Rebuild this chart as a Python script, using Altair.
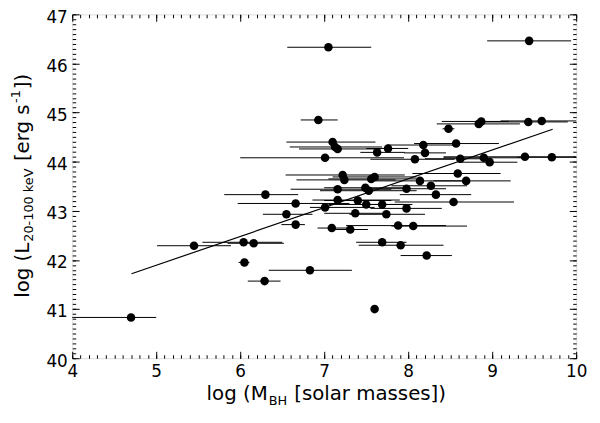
import altair as alt
import pandas as pd

# ---- data ----
log_mbh = [4.70, 5.45, 6.04, 6.16, 6.05, 6.29, 6.83, 7.60, 6.30, 6.66,
           6.55, 6.66, 7.01, 7.09, 7.31, 7.16, 7.40, 7.50, 7.69, 7.98,
           7.37, 7.74, 7.88, 8.06, 7.69, 7.91, 8.22, 8.54, 8.33, 8.27,
           8.14, 8.69, 8.59, 7.98, 7.53, 7.49, 7.16, 7.22, 7.24, 7.56,
           7.60, 7.01, 7.10, 7.13, 7.16, 7.63, 7.76, 8.18, 8.20, 8.08,
           8.57, 8.62, 8.90, 8.97, 9.39, 9.71, 8.48, 8.84, 8.87, 9.43,
           9.59, 6.93, 7.05, 9.44]
log_lx = [40.83, 42.29, 42.36, 42.34, 41.95, 41.57, 41.79, 41.00, 43.33, 43.15,
          42.93, 42.72, 43.07, 42.65, 42.62, 43.22, 43.21, 43.13, 43.13, 43.05,
          42.95, 42.93, 42.70, 42.69, 42.36, 42.30, 42.09, 43.18, 43.33, 43.51,
          43.61, 43.61, 43.76, 43.45, 43.41, 43.47, 43.44, 43.73, 43.63, 43.65,
          43.69, 44.08, 44.40, 44.30, 44.26, 44.19, 44.27, 44.34, 44.18, 44.05,
          44.37, 44.06, 44.08, 43.99, 44.10, 44.09, 44.67, 44.77, 44.82, 44.81,
          44.83, 44.85, 46.33, 46.46]
mbh_lo = [3.80, 5.01, 5.55, 5.85, 5.98, 6.09, 6.34, 7.60, 5.81, 5.97,
          6.27, 6.49, 6.83, 6.92, 7.10, 6.86, 7.00, 7.05, 7.35, 7.55,
          7.00, 7.30, 7.26, 7.80, 7.38, 7.41, 7.91, 7.84, 7.90, 7.80,
          7.60, 8.30, 8.05, 7.50, 6.95, 7.00, 6.60, 6.54, 6.67, 7.05,
          7.10, 6.00, 6.55, 6.59, 6.70, 7.43, 7.50, 7.75, 7.95, 7.55,
          8.07, 8.20, 8.42, 8.60, 8.42, 9.30, 8.41, 8.34, 8.40, 8.86,
          9.10, 6.72, 6.56, 8.94]
mbh_hi = [5.00, 5.89, 6.50, 6.52, 6.11, 6.48, 7.33, 7.60, 6.69, 7.30,
          6.86, 6.77, 7.60, 7.30, 7.52, 7.90, 7.80, 7.95, 8.05, 8.40,
          7.75, 8.20, 8.45, 8.70, 7.98, 8.42, 8.52, 9.26, 8.75, 8.70,
          8.70, 9.22, 9.10, 8.45, 8.10, 7.95, 7.80, 7.96, 7.85, 8.10,
          8.10, 7.95, 7.61, 7.69, 7.60, 7.96, 8.00, 8.60, 8.45, 8.55,
          9.08, 9.00, 9.40, 9.30, 10.00, 10.20, 8.55, 9.33, 9.20, 9.90,
          10.20, 7.16, 7.56, 9.94]
fit_mbh = [4.706, 9.72]
fit_lx = [41.72, 44.66]

x_major = [4, 5, 6, 7, 8, 9, 10]
y_major = [40, 41, 42, 43, 44, 45, 46, 47]
x_minor = [round(4 + 0.1 * i, 1) for i in range(61)]
y_minor = [round(40 + 0.1 * i, 1) for i in range(71)]

FONT = "DejaVu Sans"
W, H = 510, 348

pts = pd.DataFrame({"m": log_mbh, "l": log_lx, "lo": mbh_lo, "hi": mbh_hi})
fit = pd.DataFrame({"m": fit_mbh, "l": fit_lx})

xs = alt.Scale(domain=[4, 10], nice=False, zero=False)
ys = alt.Scale(domain=[40, 47], nice=False, zero=False)


def ax(orient, values, size, labels, pad=6, loff=0):
    kw = dict(orient=orient, values=values, tickSize=size, offset=-size,
              labels=labels, domain=False, grid=False, title=None, ticks=True,
              tickColor="black", tickWidth=1)
    if labels:
        kw.update(labelFont=FONT, labelFontSize=17, labelColor="black",
                  labelPadding=pad, labelFlush=False, labelOverlap=False,
                  labelOffset=loff, format="d")
    return alt.Axis(**kw)


bars = alt.Chart(pts).mark_rule(clip=True, color="black", strokeWidth=1).encode(
    x=alt.X("lo:Q", scale=xs, axis=ax("bottom", x_major, 7, True, 5)),
    x2="hi:Q",
    y=alt.Y("l:Q", scale=ys, axis=ax("left", y_major, 7, True, 5, 3)),
)
line = alt.Chart(fit).mark_line(color="black", strokeWidth=1.2).encode(
    x=alt.X("m:Q", scale=xs, axis=ax("top", x_major, 7, False)),
    y=alt.Y("l:Q", scale=ys, axis=ax("right", y_major, 7, False)),
)
dots = alt.Chart(pts).mark_circle(size=75, color="black", opacity=1).encode(
    x=alt.X("m:Q", scale=xs, axis=ax("bottom", x_minor, 3.5, False)),
    y=alt.Y("l:Q", scale=ys, axis=ax("left", y_minor, 3.5, False)),
)
ghost = alt.Chart(fit).mark_point(opacity=0).encode(
    x=alt.X("m:Q", scale=xs, axis=ax("top", x_minor, 3.5, False)),
    y=alt.Y("l:Q", scale=ys, axis=ax("right", y_minor, 3.5, False)),
)


def piece(text, px, py, size, angle=0):
    return alt.Chart(pd.DataFrame({"t": [text]})).mark_text(
        align="left", baseline="alphabetic", font=FONT, fontSize=size,
        color="black", angle=angle,
    ).encode(x=alt.value(px), y=alt.value(py), text="t:N")


# x title: log (M_BH [solar masses])
xt = [
    piece("log (M", 136, 390, 20),
    piece("BH", 198.9, 395, 13),
    piece("[solar masses])", 224.6, 390, 20),
]
# y title: log (L_{20-100 keV} [erg s^-1])
yt = [
    piece("log (L", -44, 286.9, 20, 270),
    piece("20-100 keV", -40, 230.1, 13, 270),
    piece("[erg s", -44, 148.5, 20, 270),
    piece("-1", -53, 89.7, 13, 270),
    piece("])", -44, 75.7, 20, 270),
]

chart = alt.layer(bars, line, dots, ghost, *xt, *yt).resolve_axis(
    x="independent", y="independent"
).properties(
    width=W, height=H,
    autosize=alt.AutoSizeParams(type="none"),
    padding={"left": 65, "top": 4, "right": 16, "bottom": 52},
).configure_view(stroke="black", strokeWidth=1).configure(background="white")

chart.save("out.html", embed_options={"renderer": "svg", "actions": False})
